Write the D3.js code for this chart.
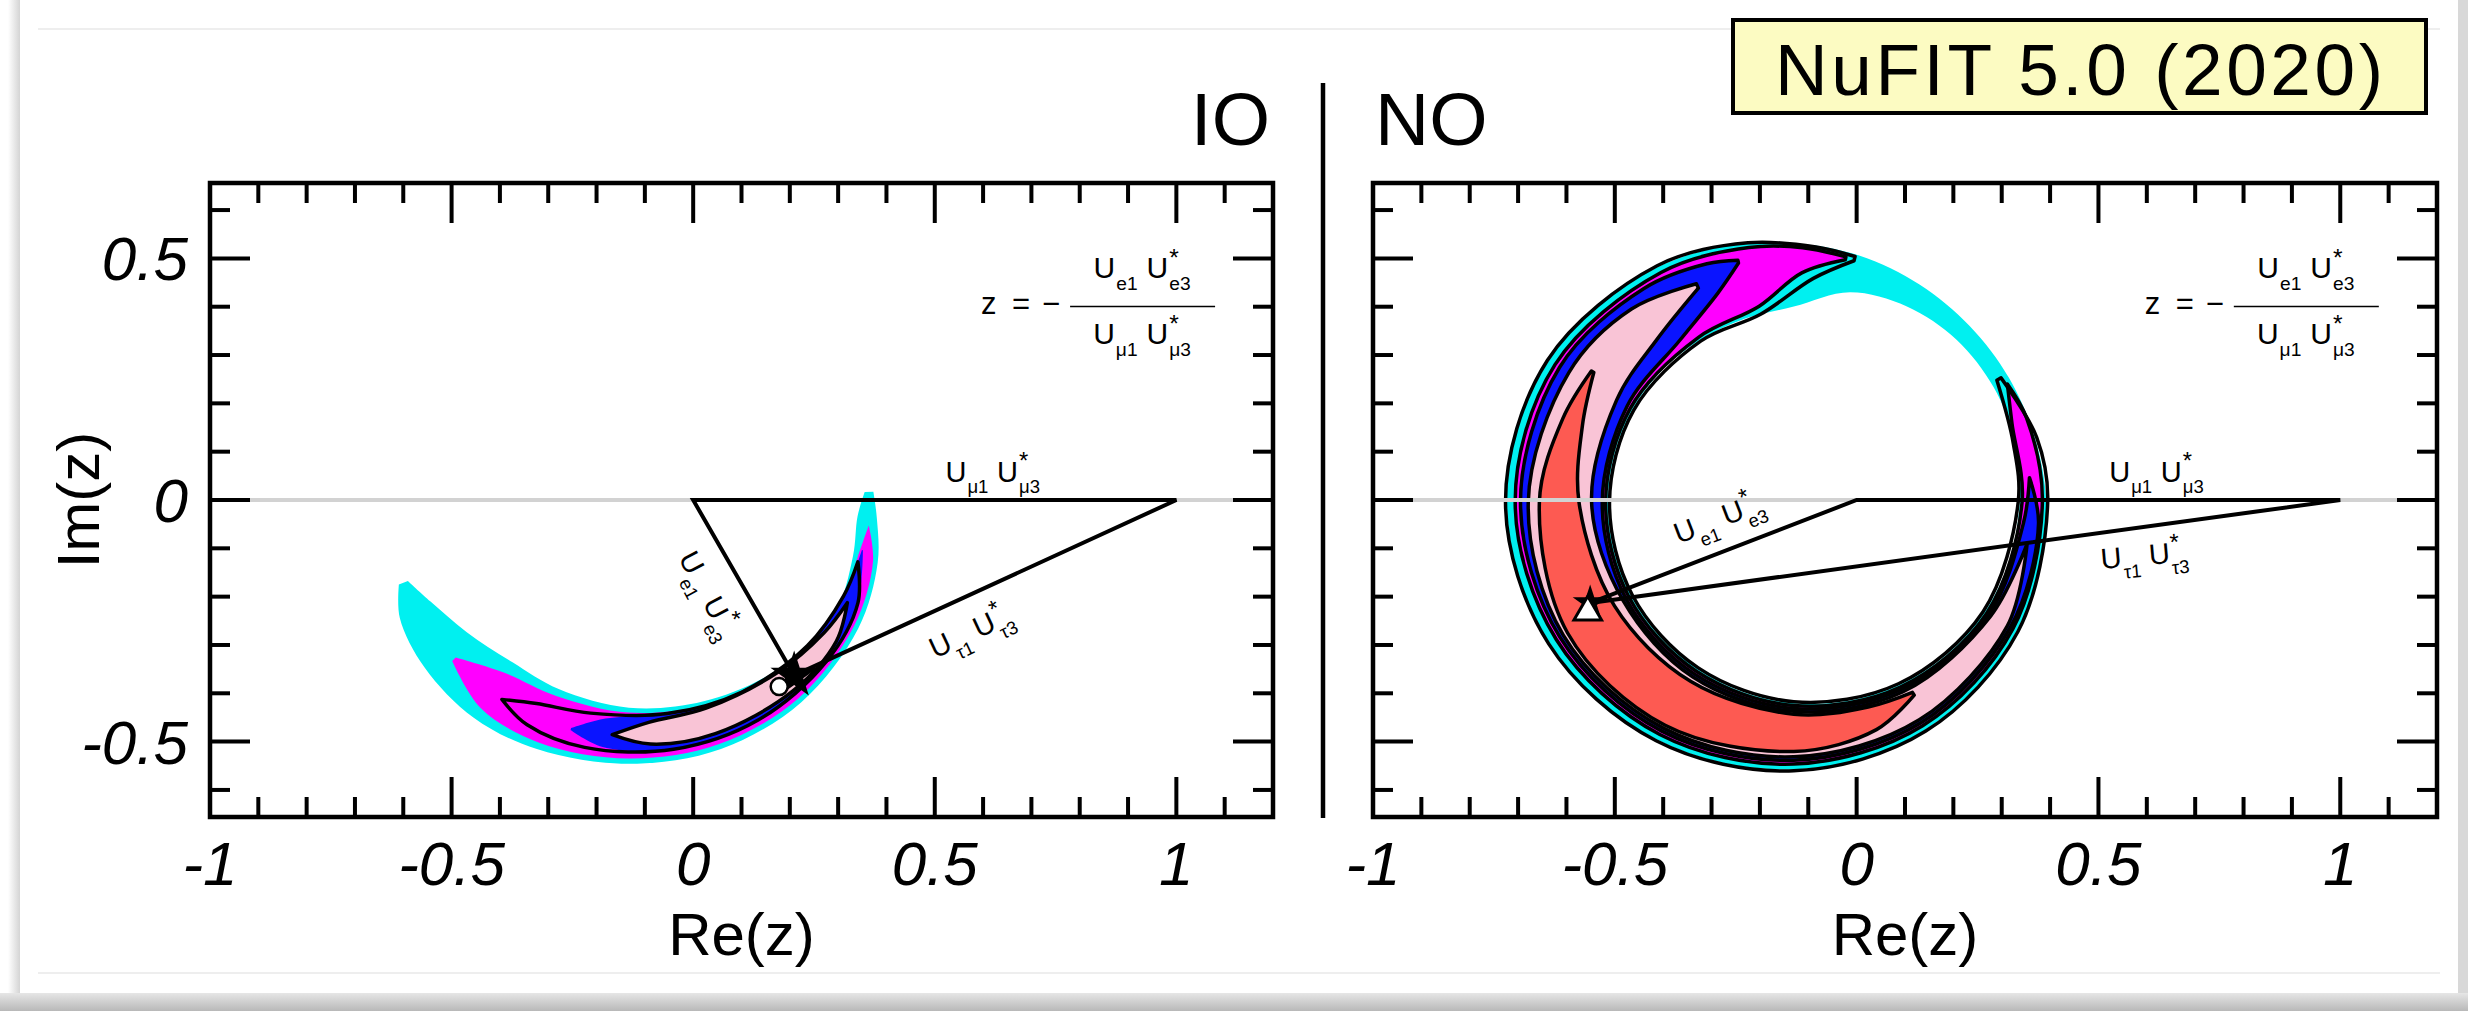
<!DOCTYPE html>
<html>
<head>
<meta charset="utf-8">
<script src="https://cdn.jsdelivr.net/npm/d3@7"></script>
<style>
  body { margin: 0; background: #fff; }
  svg text { font-family: "Liberation Sans", Arial, Helvetica, sans-serif; fill: #000; }
</style>
</head>
<body>
<div id="chart"></div>
<script>
(function(){
  // axes
  const xDomain = [-1, 1.2];
  const yDomain = [-0.656, 0.656];
  const xLabelTicks = [-1, -0.5, 0, 0.5, 1];
  const yLabelTicks = [-0.5, 0, 0.5];

  // triangle: fixed side from 0 to 1, apex at best fit z
  const baseSide = [[0, 0], [1, 0]];
  const ioStar = [0.209, -0.363];
  const ioDot = [0.178, -0.386];
  const noStar = [-0.551, -0.213];
  const noTri = [-0.556, -0.232];

  // contour bands, [angle deg clockwise from up, inner r, outer r] around a centre
  const ioCentre = [-0.133, 0.008];
  const ioCyan = [[89,0.488,0.506],[95,0.475,0.515],[105,0.48,0.533],[120,0.49,0.548],[140,0.472,0.556],[160,0.452,0.557],[180,0.438,0.554],[200,0.425,0.557],[215,0.42,0.56],[230,0.438,0.552],[242,0.465,0.537],[249,0.49,0.51]];
  const ioMagenta = [[97,0.5,0.5],[105,0.49,0.523],[120,0.498,0.538],[140,0.48,0.546],[160,0.46,0.546],[180,0.448,0.543],[200,0.44,0.543],[215,0.447,0.535],[227,0.49,0.5]];
  const ioBlue = [[103,0.495,0.497],[115,0.49,0.522],[130,0.482,0.532],[150,0.468,0.534],[170,0.458,0.531],[186,0.463,0.522],[194,0.495,0.499]];
  const ioLine = [[106,0.493,0.493],[115,0.49,0.523],[130,0.482,0.533],[150,0.468,0.535],[170,0.457,0.532],[190,0.456,0.528],[204,0.47,0.518],[212,0.496,0.496]];
  const ioPink = [[116,0.503,0.503],[125,0.493,0.524],[140,0.477,0.527],[160,0.467,0.523],[175,0.47,0.515],[184,0.495,0.495]];

  const noCentre = [-0.13, -0.005];
  const noCyan = [[0,0.405,0.536],[15,0.45,0.528],[30,0.468,0.52],[45,0.476,0.515],[60,0.477,0.514],[75,0.474,0.516],[90,0.467,0.522],[105,0.462,0.526],[120,0.455,0.532],[135,0.446,0.537],[150,0.436,0.543],[165,0.425,0.548],[180,0.415,0.552],[195,0.406,0.558],[210,0.398,0.566],[225,0.392,0.574],[240,0.388,0.582],[255,0.385,0.589],[270,0.384,0.593],[285,0.384,0.591],[300,0.385,0.585],[315,0.386,0.574],[330,0.388,0.562],[345,0.393,0.549]];
  const noLine = [[59,0.49,0.5],[75,0.47,0.52],[90,0.464,0.525],[120,0.452,0.535],[150,0.433,0.546],[180,0.412,0.555],[210,0.395,0.569],[240,0.385,0.585],[270,0.381,0.596],[300,0.382,0.588],[330,0.385,0.565],[350,0.395,0.545],[365,0.465,0.53],[374,0.515,0.524]];
  const noMagenta = [[61,0.505,0.505],[70,0.48,0.512],[90,0.472,0.514],[120,0.46,0.523],[150,0.441,0.533],[180,0.42,0.541],[210,0.403,0.554],[240,0.393,0.567],[270,0.389,0.576],[300,0.39,0.57],[330,0.394,0.549],[350,0.412,0.535],[362,0.475,0.527],[372,0.513,0.519]];
  const noBlue = [[84,0.49,0.49],[95,0.477,0.508],[120,0.465,0.517],[150,0.446,0.526],[180,0.426,0.533],[210,0.41,0.546],[240,0.4,0.558],[270,0.396,0.565],[300,0.398,0.559],[325,0.41,0.54],[340,0.46,0.525],[347,0.508,0.514]];
  const noPink = [[100,0.49,0.49],[120,0.47,0.51],[150,0.452,0.519],[180,0.432,0.526],[210,0.417,0.539],[240,0.407,0.55],[270,0.418,0.549],[300,0.423,0.537],[320,0.44,0.522],[336,0.485,0.495]];
  const noRed = [[148,0.463,0.47],[160,0.45,0.5],[180,0.438,0.515],[210,0.427,0.532],[240,0.428,0.54],[270,0.444,0.526],[290,0.465,0.508],[303,0.493,0.499]];

  const width = 2468;
  const height = 1011;
  const colors = { cyan: "#00f0f0", magenta: "#ff00ff", blue: "#0a14ff", pink: "#f9c4d6", red: "#fd5a52" };

  const svg = d3.select("#chart").append("svg")
    .attr("width", width)
    .attr("height", height);

  // card + shadow
  const defs = svg.append("defs");
  const gb = defs.append("linearGradient").attr("id", "shB").attr("x1", 0).attr("y1", 0).attr("x2", 0).attr("y2", 1);
  gb.append("stop").attr("offset", 0).attr("stop-color", "#e6e6e6");
  gb.append("stop").attr("offset", 1).attr("stop-color", "#b8b8b8");
  const gl = defs.append("linearGradient").attr("id", "shL").attr("x1", 0).attr("y1", 0).attr("x2", 1).attr("y2", 0);
  gl.append("stop").attr("offset", 0).attr("stop-color", "#ffffff");
  gl.append("stop").attr("offset", 1).attr("stop-color", "#d4d4d4");
  svg.append("rect").attr("width", width).attr("height", height).attr("fill", "#fff");
  svg.append("rect").attr("x", 8).attr("y", 0).attr("width", 12).attr("height", 995).attr("fill", "url(#shL)");
  svg.append("rect").attr("x", 2458).attr("y", 0).attr("width", 10).attr("height", 1011).attr("fill", "#d8d8d8");
  svg.append("rect").attr("x", 0).attr("y", 993).attr("width", width).attr("height", 18).attr("fill", "url(#shB)");
  svg.append("line").attr("x1", 38).attr("x2", 2440).attr("y1", 29).attr("y2", 29).attr("stroke", "#eeeeee").attr("stroke-width", 2);
  svg.append("line").attr("x1", 38).attr("x2", 2440).attr("y1", 973).attr("y2", 973).attr("stroke", "#eeeeee").attr("stroke-width", 2);

  const panels = [
    { key: "IO", x0: 210, x1: 1273, centre: ioCentre, star: ioStar, yLabels: true,
      bands: [[ioCyan, colors.cyan, null], [ioMagenta, colors.magenta, null], [ioBlue, colors.blue, null], [ioLine, "none", "#000"], [ioPink, colors.pink, "#000"]] },
    { key: "NO", x0: 1373, x1: 2437, centre: noCentre, star: noStar, yLabels: false,
      bands: [[noCyan, colors.cyan, null, true], [noMagenta, colors.magenta, "#000"], [noBlue, colors.blue, "#000"], [noPink, colors.pink, "#000"], [noRed, colors.red, "#000"], [noLine, "none", "#000"]] }
  ];
  const top = 183, bottom = 817;

  function isMajor(t) { return Math.abs(t * 2 - Math.round(t * 2)) < 1e-6; }

  // U with a subscript, optional star stacked above the subscript
  function uTerm(g, x0, sub, star, fs) {
    const u = g.append("text").attr("x", x0).attr("y", 0).attr("font-size", fs).text("U");
    const w = u.node().getComputedTextLength();
    const s = g.append("text").attr("x", x0 + w + 1).attr("y", fs * 0.39).attr("font-size", fs * 0.64).text(sub);
    if (star) g.append("text").attr("x", x0 + w + 1).attr("y", -fs * 0.43).attr("font-size", fs * 0.82).text("*");
    return x0 + w + 1 + s.node().getComputedTextLength();
  }
  function uPair(parent, a, b, fs) {
    const g = parent.append("g");
    const inner = g.append("g");
    const xe = uTerm(inner, 0, a, false, fs);
    uTerm(inner, xe + fs * 0.3, b, true, fs);
    const bb = inner.node().getBBox();
    inner.attr("transform", `translate(${-bb.width / 2},${fs * 0.2})`);
    return g;
  }

  panels.forEach(p => {
    const x = d3.scaleLinear().domain(xDomain).range([p.x0, p.x1]);
    const y = d3.scaleLinear().domain(yDomain).range([bottom, top]);
    const k = x(1) - x(0);
    const g = svg.append("g").attr("class", "panel-" + p.key);

    // contours
    p.bands.forEach(([data, fill, stroke, closed]) => {
      const gen = d3.areaRadial()
        .angle(d => d[0] * Math.PI / 180)
        .innerRadius(d => d[1] * k)
        .outerRadius(d => d[2] * k)
        .curve(closed ? d3.curveCatmullRomClosed : d3.curveCatmullRom);
      g.append("path")
        .attr("transform", `translate(${x(p.centre[0])},${y(p.centre[1])})`)
        .attr("d", gen(data))
        .attr("fill", fill || "none")
        .attr("stroke", stroke || "none")
        .attr("stroke-width", 3.5)
        .attr("stroke-linejoin", "round");
    });

    // zero line
    g.append("line")
      .attr("x1", x(xDomain[0])).attr("x2", x(xDomain[1]))
      .attr("y1", y(0)).attr("y2", y(0))
      .attr("stroke", "#d2d2d2").attr("stroke-width", 4);

    // unitarity triangle
    const tri = [baseSide[0], baseSide[1], p.star];
    g.append("path")
      .attr("d", d3.line().x(d => x(d[0])).y(d => y(d[1])).curve(d3.curveLinearClosed)(tri))
      .attr("fill", "none").attr("stroke", "#000").attr("stroke-width", 4).attr("stroke-linejoin", "miter");

    // markers
    g.append("path")
      .attr("transform", `translate(${x(p.star[0])},${y(p.star[1])})`)
      .attr("d", d3.symbol(d3.symbolStar, p.key === "IO" ? 700 : 380)())
      .attr("fill", "#000");
    if (p.key === "IO") {
      g.append("circle").attr("cx", x(ioDot[0])).attr("cy", y(ioDot[1])).attr("r", 8.5)
        .attr("fill", "#fff").attr("stroke", "#000").attr("stroke-width", 2.5);
    } else {
      g.append("path")
        .attr("transform", `translate(${x(noTri[0])},${y(noTri[1])})`)
        .attr("d", d3.symbol(d3.symbolTriangle, 330)())
        .attr("fill", "#fff").attr("stroke", "#000").attr("stroke-width", 3);
    }

    // frame
    g.append("rect")
      .attr("x", p.x0).attr("y", top).attr("width", p.x1 - p.x0).attr("height", bottom - top)
      .attr("fill", "none").attr("stroke", "#000").attr("stroke-width", 4.5);

    // ticks
    x.ticks(22).filter(t => t > xDomain[0] + 1e-6 && t < xDomain[1] - 1e-6).forEach(t => {
      const len = isMajor(t) ? 40 : 20;
      g.append("line").attr("x1", x(t)).attr("x2", x(t)).attr("y1", bottom).attr("y2", bottom - len).attr("stroke", "#000").attr("stroke-width", 4);
      g.append("line").attr("x1", x(t)).attr("x2", x(t)).attr("y1", top).attr("y2", top + len).attr("stroke", "#000").attr("stroke-width", 4);
    });
    y.ticks(13).filter(t => t > yDomain[0] && t < yDomain[1]).forEach(t => {
      const len = isMajor(t) ? 40 : 20;
      g.append("line").attr("x1", p.x0).attr("x2", p.x0 + len).attr("y1", y(t)).attr("y2", y(t)).attr("stroke", "#000").attr("stroke-width", 4);
      g.append("line").attr("x1", p.x1).attr("x2", p.x1 - len).attr("y1", y(t)).attr("y2", y(t)).attr("stroke", "#000").attr("stroke-width", 4);
    });

    // tick labels
    g.selectAll(".xl").data(xLabelTicks).enter().append("text")
      .attr("x", d => x(d)).attr("y", 885)
      .attr("text-anchor", "middle").attr("font-size", 62).attr("font-style", "italic")
      .text(d => String(d));
    if (p.yLabels) {
      g.selectAll(".yl").data(yLabelTicks).enter().append("text")
        .attr("x", p.x0 - 22).attr("y", d => y(d) + 22)
        .attr("text-anchor", "end").attr("font-size", 62).attr("font-style", "italic")
        .text(d => String(d));
      g.append("text")
        .attr("transform", `translate(99,${(top + bottom) / 2}) rotate(-90)`)
        .attr("text-anchor", "middle").attr("font-size", 60).text("Im(z)");
    }
    g.append("text")
      .attr("x", (p.x0 + p.x1) / 2).attr("y", 955)
      .attr("text-anchor", "middle").attr("font-size", 60).text("Re(z)");

    // formula
    const fg = g.append("g").attr("transform", `translate(${x(0.6)},${y(0.384)})`);
    fg.append("text").attr("x", -2).attr("y", 0).attr("font-size", 31).text("z");
    fg.append("text").attr("x", 29).attr("y", 0).attr("font-size", 31).text("=");
    fg.append("text").attr("x", 59).attr("y", 0).attr("font-size", 31).text("\u2212");
    fg.append("line").attr("x1", 87).attr("x2", 232).attr("y1", -8).attr("y2", -8).attr("stroke", "#000").attr("stroke-width", 1.6);
    uPair(fg.append("g").attr("transform", "translate(159,-42)"), "e1", "e3", 30);
    uPair(fg.append("g").attr("transform", "translate(159,24)"), "\u03bc1", "\u03bc3", 30);

    // side labels
    uPair(g.append("g").attr("transform", `translate(${x(0.62)},${y(0.05)})`), "\u03bc1", "\u03bc3", 29);
    if (p.key === "IO") {
      uPair(g.append("g").attr("transform", `translate(${x(0.025)},${y(-0.2)}) rotate(62)`), "e1", "e3", 29);
      uPair(g.append("g").attr("transform", `translate(${x(0.578)},${y(-0.279)}) rotate(-25)`), "\u03c41", "\u03c43", 29);
    } else {
      uPair(g.append("g").attr("transform", `translate(${x(-0.282)},${y(-0.045)}) rotate(-21)`), "e1", "e3", 29);
      uPair(g.append("g").attr("transform", `translate(${x(0.596)},${y(-0.123)}) rotate(-5)`), "\u03c41", "\u03c43", 29);
    }
  });

  // headers
  svg.append("text").attr("x", 1270).attr("y", 145).attr("text-anchor", "end").attr("font-size", 75).text("IO");
  svg.append("text").attr("x", 1375).attr("y", 145).attr("font-size", 75).text("NO");
  svg.append("line").attr("x1", 1323).attr("x2", 1323).attr("y1", 83).attr("y2", 818).attr("stroke", "#000").attr("stroke-width", 4.5);

  svg.append("rect").attr("x", 1733).attr("y", 20).attr("width", 693).attr("height", 93)
    .attr("fill", "#fcfbc2").attr("stroke", "#000").attr("stroke-width", 4);
  svg.append("text").attr("x", 2079).attr("y", 95).attr("text-anchor", "middle").attr("font-size", 73)
    .attr("textLength", 608).attr("lengthAdjust", "spacing").text("NuFIT 5.0 (2020)");
})();
</script>
</body>
</html>
